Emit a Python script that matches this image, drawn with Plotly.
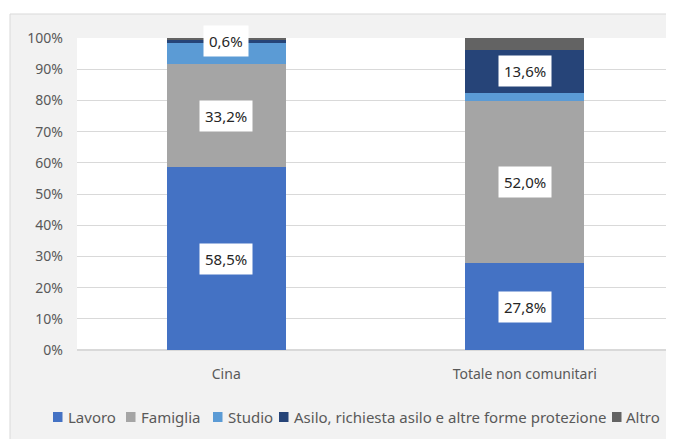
import plotly.graph_objects as go

categories = ["Cina", "Totale non comunitari"]
series_names = ["Lavoro", "Famiglia", "Studio",
                "Asilo, richiesta asilo e altre forme protezione", "Altro"]
lavoro = [58.5, 27.8]
famiglia = [33.2, 52.0]
studio = [7.0, 2.7]
asilo = [0.6, 13.6]
altro = [0.7, 3.9]
labelled = ["Lavoro", "Famiglia", "Asilo, richiesta asilo e altre forme protezione"]
colors = ["#4472C4", "#A5A5A5", "#5B9BD5", "#264478", "#636363"]
values = [lavoro, famiglia, studio, asilo, altro]

FONT = "Noto Sans"
OFF = 8  # default body margin of the html page
W, H = 674 - OFF, 439 - OFF
ML, MR, MT, MB = 77 - OFF, 0, 38 - OFF, 89
PW, PH = W - ML - MR, H - MT - MB


def px(x):  # reference-page x pixel -> paper coordinate
    return (x - OFF - ML) / PW


def py(y):  # reference-page y pixel -> paper coordinate
    return (H - MB - (y - OFF)) / PH


fig = go.Figure()
for name, vals, col in zip(series_names, values, colors):
    fig.add_trace(go.Bar(name=name, x=categories, y=vals, marker_color=col,
                         marker_line_width=0, width=0.4, showlegend=False))

# data labels
cum = [0.0, 0.0]
for name, vals in zip(series_names, values):
    for i, v in enumerate(vals):
        if name in labelled:
            fig.add_annotation(x=categories[i], y=cum[i] + v / 2,
                               text=f"{v:.1f}%".replace(".", ","),
                               showarrow=False, bgcolor="white",
                               font=dict(family=FONT, size=15, color="#262626"),
                               borderpad=5)
        cum[i] += v

shapes = [
    dict(type="rect", xref="paper", yref="paper", x0=px(10), x1=px(720),
         y0=py(460), y1=py(14), fillcolor="#F2F2F2",
         line=dict(color="#D9D9D9", width=1), layer="below"),
    dict(type="rect", xref="x domain", yref="y domain", x0=0, x1=1,
         y0=0, y1=1, fillcolor="white", line=dict(width=0), layer="below"),
]

# manual legend (single row, like the reference)
legend_sq_x = [53, 126, 213, 279, 612]
legend_txt_x = [66, 139, 226, 292, 624]
legend_y = 417
for name, col, sx, tx in zip(series_names, colors, legend_sq_x, legend_txt_x):
    shapes.append(dict(type="rect", xref="paper", yref="paper",
                       x0=px(sx), x1=px(sx + 9.5), y0=py(legend_y + 5),
                       y1=py(legend_y - 5), fillcolor=col, line=dict(width=0)))
    fig.add_annotation(xref="paper", yref="paper", x=px(tx), y=py(legend_y),
                       xanchor="left", yanchor="middle", text=name,
                       showarrow=False,
                       font=dict(family=FONT, size=15, color="#595959"))

fig.update_layout(
    barmode="stack",
    width=W, height=H,
    margin=dict(l=ML, r=MR, t=MT, b=MB, autoexpand=False),
    paper_bgcolor="white", plot_bgcolor="white",
    font=dict(family=FONT, size=13, color="#595959"),
    showlegend=False,
    shapes=shapes,
)
fig.update_xaxes(showgrid=False, showline=False, ticks="",
                 ticklabelstandoff=14,
                 tickfont=dict(size=14, color="#595959"))
fig.update_yaxes(range=[0, 100], dtick=10, ticksuffix="%", showgrid=True,
                 gridcolor="#D9D9D9", gridwidth=1, zeroline=True,
                 zerolinecolor="#D9D9D9", ticks="", ticklabelstandoff=13,
                 tickfont=dict(size=14, color="#595959"))

fig.write_html("out.html", config={"displayModeBar": False})
